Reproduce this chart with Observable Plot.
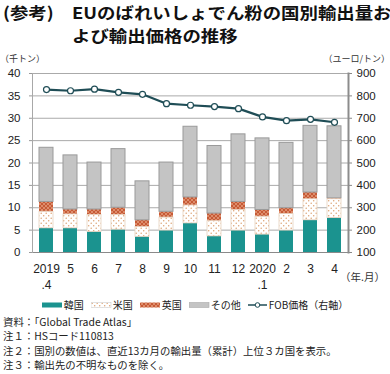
<!DOCTYPE html>
<html>
<head>
<meta charset="utf-8">
<script src="https://cdn.jsdelivr.net/npm/d3@7"></script>
<script src="https://cdn.jsdelivr.net/npm/@observablehq/plot@0.6"></script>
<style>
  body { margin: 0; background: #fff; }
  #wrap { position: relative; width: 390px; height: 374px; overflow: hidden; font-family: "Noto Sans CJK JP", "Noto Sans", sans-serif; color: #222; }
  .abs { position: absolute; }
  .ttl { font-size: 16px; font-weight: bold; line-height: 20px; white-space: nowrap; transform: scaleX(1.15); transform-origin: 0 50%; color: #111; }
  .unit { top: 52px; font-size: 9px; line-height: 14px; color: #333; }
  #legend { left: 0; top: 298px; width: 390px; display: flex; justify-content: center; align-items: center; font-size: 10px; line-height: 14px; white-space: nowrap; }
  #legend .it { display: flex; align-items: center; margin: 0 3.5px; }
  #legend svg { margin-right: 1px; }
  #notes { left: 3px; top: 315px; font-size: 10.4px; line-height: 14.3px; white-space: nowrap; }
  #ym { right: 5px; top: 270px; font-size: 10.5px; line-height: 14px; color: #333; }
</style>
</head>
<body>
<div id="wrap">
  <div class="abs ttl" style="left:3px; top:2px;">(参考)</div>
  <div class="abs ttl" style="left:72px; top:2px;">EUのばれいしょでん粉の国別輸出量お</div>
  <div class="abs ttl" style="left:72px; top:25px;">よび輸出価格の推移</div>
  <div class="abs unit" style="left:0">（千トン）</div>
  <div class="abs unit" style="right:0">（ユーロ/トン）</div>
  <div id="chart" class="abs" style="left:0; top:52px;"></div>
  <div id="ym" class="abs">（年.月）</div>
  <div id="legend" class="abs"></div>
  <div id="notes" class="abs"></div>
</div>
<script>
// ---- data ----
const months = ["2019\n.4","5","6","7","8","9","10","11","12","2020\n.1","2","3","4"];
const categories = ["韓国","米国","英国","その他"];
const korea = [5.4,5.4,4.6,5.1,3.5,4.9,6.5,3.6,4.9,4.0,4.9,7.2,7.7];
const usa   = [3.7,3.1,3.8,3.3,2.2,2.9,4.0,3.4,4.6,4.0,3.7,4.7,4.2];
const uk    = [2.2,1.1,1.2,1.6,1.5,1.3,1.8,1.7,1.8,1.5,1.3,1.5,0.2];
const other = [12.1,12.1,10.5,13.1,8.7,11.0,15.8,15.1,15.1,16.0,14.6,14.9,16.1];
const fobPrice = [828,823,830,816,807,765,758,752,743,706,689,695,682];
const leftTicks = [0,5,10,15,20,25,30,35,40];
const rightTicks = [100,200,300,400,500,600,700,800,900];
const lineLabel = "FOB価格（右軸）";
const notes = [
  "資料：「Global Trade Atlas」",
  "注１：HSコード110813",
  "注２：国別の数値は、直近13カ月の輸出量（累計）上位３カ国を表示。",
  "注３：輸出先の不明なものを除く。"
];

// ---- build tables ----
const series = [korea, usa, uk, other];
const rows = [];
months.forEach((m, i) => {
  let base = 0;
  series.forEach((s, k) => {
    rows.push({m, cat: categories[k], y1: base, y2: base + s[i]});
    base += s[i];
  });
});
// right axis (price) mapped onto left units
const price2left = d3.scaleLinear([100, 900], [0, 40]);
const left2price = price2left.invert;
const priceRows = months.map((m, i) => ({m, v: price2left(fobPrice[i])}));

const colors = {
  "韓国": "#1b938f",
  "米国": "url(#pUS)",
  "英国": "url(#pUK)",
  "その他": "#c4c4c4"
};
const lineColor = "#1f4d56";

const chart = Plot.plot({
  width: 390,
  height: 242,
  marginTop: 21,
  marginBottom: 42,
  marginLeft: 32,
  marginRight: 42,
  style: {fontFamily: "'Liberation Sans', Arial, sans-serif", fontSize: "11px", color: "#222", background: "transparent"},
  x: {type: "band", domain: months, paddingInner: 0.42, paddingOuter: 0.21, label: null},
  y: {domain: [0, 40], label: null},
  color: {domain: categories, range: categories.map(c => colors[c])},
  marks: [
    Plot.gridY(leftTicks.slice(1), {stroke: "#aaaaaa", strokeOpacity: 1}),
    Plot.barY(rows, {x: "m", y1: "y1", y2: "y2", fill: "cat"}),
    Plot.barY(rows.filter(d => d.cat === "その他"), {x: "m", y1: "y1", y2: "y2", fill: "none", stroke: "#9a9a9a", strokeWidth: 1}),
    Plot.barY(rows.filter(d => d.cat === "米国"), {x: "m", y1: "y1", y2: "y2", fill: "none", stroke: "#e6d2bf", strokeWidth: 0.8}),
    Plot.ruleY([0], {stroke: "#8a8a8a", strokeWidth: 1}),
    Plot.axisY({anchor: "left", ticks: leftTicks, tickSize: 3, tickPadding: 9, stroke: "#999", fontSize: 11.5, label: null}),
    Plot.axisY({anchor: "right", ticks: rightTicks.map(price2left), tickFormat: d => Math.round(left2price(d)), tickSize: 3, tickPadding: 5, stroke: "#888", fontSize: 11.5, label: null}),
    Plot.axisX({tickSize: 0, tickPadding: 9, fontSize: 12, lineHeight: 1.35, label: null}),
    Plot.frame({anchor: "left", stroke: "#a8a8a8", strokeWidth: 1}),
    Plot.frame({anchor: "right", stroke: "#8c8c8c", strokeWidth: 2}),
    Plot.line(priceRows, {x: "m", y: "v", stroke: lineColor, strokeWidth: 2.2}),
    Plot.dot(priceRows, {x: "m", y: "v", r: 3, fill: "white", stroke: lineColor, strokeWidth: 1.2})
  ]
});

function addDefs(svgNode) {
  const defs = d3.select(svgNode).insert("defs", ":first-child");
  const us = defs.append("pattern").attr("id", "pUS").attr("patternUnits", "userSpaceOnUse").attr("width", 5).attr("height", 5);
  us.append("rect").attr("width", 5).attr("height", 5).attr("fill", "#ffffff");
  us.append("circle").attr("cx", 1.2).attr("cy", 1.2).attr("r", 0.75).attr("fill", "#dca273");
  us.append("circle").attr("cx", 3.7).attr("cy", 3.7).attr("r", 0.75).attr("fill", "#dca273");
  const ukp = defs.append("pattern").attr("id", "pUK").attr("patternUnits", "userSpaceOnUse").attr("width", 4).attr("height", 4);
  ukp.append("rect").attr("width", 4).attr("height", 4).attr("fill", "#c65a36");
  ukp.append("path").attr("d", "M0,0L4,4M4,0L0,4").attr("stroke", "#e49a78").attr("stroke-width", 0.8);
}
addDefs(chart);
document.getElementById("chart").appendChild(chart);

// ---- legend ----
const legend = d3.select("#legend");
categories.forEach(c => {
  const it = legend.append("div").attr("class", "it");
  const s = it.append("svg").attr("width", 21).attr("height", 6);
  s.append("rect").attr("width", 20).attr("height", 5).attr("y", 0.5)
    .attr("fill", colors[c])
    .attr("stroke", c === "米国" ? "#cfcfcf" : c === "その他" ? "#aaa" : "none")
    .attr("stroke-width", 0.6);
  it.append("span").text(c);
});
{
  const it = legend.append("div").attr("class", "it");
  const s = it.append("svg").attr("width", 20).attr("height", 8);
  s.append("line").attr("x1", 0).attr("x2", 19).attr("y1", 4).attr("y2", 4).attr("stroke", lineColor).attr("stroke-width", 1.5);
  s.append("circle").attr("cx", 9.5).attr("cy", 4).attr("r", 2.3).attr("fill", "white").attr("stroke", lineColor).attr("stroke-width", 1);
  it.append("span").text(lineLabel);
}

// ---- notes ----
d3.select("#notes").selectAll("div").data(notes).join("div").text(d => d);
</script>
</body>
</html>
